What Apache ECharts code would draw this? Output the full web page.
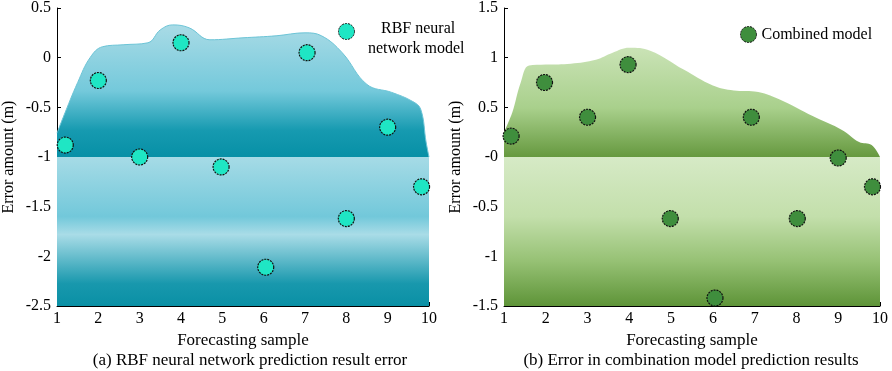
<!DOCTYPE html>
<html>
<head>
<meta charset="utf-8">
<script src="https://cdn.jsdelivr.net/npm/echarts@6/dist/echarts.min.js"></script>
<style>
  html, body { margin: 0; padding: 0; background: #fff; }
  #chart { width: 892px; height: 371px; }
</style>
</head>
<body>
<div id="chart"></div>
<script>
// 预测误差数据 (x = 样本序号, y = 误差)
const rbfX = [1.2, 2, 3, 4, 4.97, 6.05, 7.05, 8, 9, 9.82];
const rbfY = [-0.88, -0.23, -1.0, 0.15, -1.1, -2.11, 0.05, -1.62, -0.7, -1.3];
const combX = [1.17, 1.97, 3, 3.97, 4.98, 6.05, 6.92, 8.02, 9, 9.82];
const combY = [0.21, 0.75, 0.4, 0.93, -0.62, -1.42, 0.4, -0.62, -0.01, -0.3];

// 背景轮廓 (装饰面积)
const rbfEnvX = [1, 1.15, 1.5, 1.8, 2.1, 2.6, 3.2, 3.5, 3.8, 4.2, 4.7, 5.5, 6.3, 7.0, 7.4, 7.9, 8.5, 9.1, 9.6, 9.8, 9.93, 10];
const rbfEnvY = [-0.76, -0.6, -0.25, 0.0, 0.11, 0.13, 0.15, 0.28, 0.33, 0.3, 0.18, 0.2, 0.22, 0.25, 0.22, 0.05, -0.27, -0.35, -0.44, -0.52, -0.85, -1.0];
const combEnvX = [1, 1.2, 1.4, 1.6, 2.0, 2.6, 3.2, 3.6, 4.0, 4.5, 5.3, 6.0, 6.5, 7.0, 7.6, 8.4, 9.1, 9.5, 9.8, 10];
const combEnvY = [0.25, 0.45, 0.75, 0.92, 0.93, 0.94, 0.98, 1.05, 1.1, 1.07, 0.88, 0.72, 0.67, 0.66, 0.58, 0.41, 0.27, 0.15, 0.12, 0.0];

// 刻度标签
const xTicks = ['1', '2', '3', '4', '5', '6', '7', '8', '9', '10'];
const rbfYTicks = { '0.5': '0.5', '0': '0', '-0.5': '-0.5', '-1': '-1', '-1.5': '-1.5', '-2': '-2', '-2.5': '-2.5' };
const combYTicks = { '1.5': '1.5', '1': '1', '0.5': '0.5', '0': '-0', '-0.5': '-0.5', '-1': '-1', '-1.5': '-1.5' };

const font = 'Liberation Serif';
const G = echarts.graphic.LinearGradient;

function pairs(xs, ys) {
    return xs.map((x, i) => [x, ys[i]]);
}

function xAxis(idx) {
    return {
        gridIndex: idx, type: 'value', min: 1, max: 10, interval: 1,
        name: 'Forecasting sample', nameLocation: 'middle', nameGap: 24,
        nameTextStyle: { fontFamily: font, fontSize: 17, color: '#000' },
        axisLine: { onZero: false, lineStyle: { color: '#000', width: 1 } },
        axisTick: { inside: true, length: 4, lineStyle: { color: '#000' } },
        axisLabel: { fontFamily: font, fontSize: 16, color: '#000', margin: 5,
            formatter: v => xTicks[v - 1] },
        splitLine: { show: false }
    };
}

function yAxis(idx, min, max, labels) {
    return {
        gridIndex: idx, type: 'value', min: min, max: max, interval: 0.5,
        name: 'Error amount (m)', nameLocation: 'middle', nameGap: 40, nameRotate: 90,
        nameTextStyle: { fontFamily: font, fontSize: 16, color: '#000' },
        axisLine: { show: true, onZero: false, lineStyle: { color: '#000', width: 1 } },
        axisTick: { show: true, inside: true, length: 4, lineStyle: { color: '#000' } },
        axisLabel: { fontFamily: font, fontSize: 16, color: '#000', margin: 6,
            formatter: v => labels[String(v)] },
        splitLine: { show: false }
    };
}

const chart = echarts.init(document.getElementById('chart'));

const option = {
    animation: false,
    grid: [
        { left: 52, top: 7, width: 377, bottom: 65 },
        { left: 504, top: 7, width: 376, bottom: 65 }
    ],
    xAxis: [xAxis(0), xAxis(1)],
    yAxis: [yAxis(0, -2.5, 0.5, rbfYTicks), yAxis(1, -1.5, 1.5, combYTicks)],
    legend: [
        {
            data: ['RBF neural network model'], left: 333, top: 18,
            icon: 'circle', itemWidth: 16, itemHeight: 16, itemGap: 6,
            itemStyle: { borderColor: '#111', borderWidth: 1, borderType: [2, 1] },
            formatter: () => '',
            textStyle: { fontFamily: font, fontSize: 16 }
        },
        {
            data: ['Combined model'], left: 735, top: 21,
            icon: 'circle', itemWidth: 16, itemHeight: 16, itemGap: 6,
            itemStyle: { borderColor: '#111', borderWidth: 1, borderType: [2, 1] },
            textStyle: { fontFamily: font, fontSize: 16, color: '#000' }
        }
    ],
    series: [
        {
            // 左图上部轮廓
            type: 'line', xAxisIndex: 0, yAxisIndex: 0, silent: true,
            data: pairs(rbfEnvX, rbfEnvY), smooth: 0.4, symbol: 'none',
            lineStyle: { color: '#6cc4d6', width: 1 },
            areaStyle: {
                origin: -1, opacity: 1,
                color: new G(0, 0, 0, 1, [
                    { offset: 0, color: '#a9dbe6' },
                    { offset: 0.5, color: '#74c9db' },
                    { offset: 0.8, color: '#169ab0' },
                    { offset: 1, color: '#0790a6' }
                ])
            },
            // 左图下部矩形
            markArea: {
                silent: true,
                itemStyle: {
                    color: new G(0, 0, 0, 1, [
                        { offset: 0, color: '#a6dbe6' },
                        { offset: 0.4, color: '#72c8da' },
                        { offset: 0.52, color: '#a9dce7' },
                        { offset: 0.85, color: '#1898ad' },
                        { offset: 1, color: '#0a90a5' }
                    ])
                },
                data: [[{ coord: [1, -1] }, { coord: [10, -2.5] }]]
            },
            z: 1
        },
        {
            // 右图上部轮廓
            type: 'line', xAxisIndex: 1, yAxisIndex: 1, silent: true,
            data: pairs(combEnvX, combEnvY), smooth: 0.4, symbol: 'none',
            lineStyle: { width: 0 },
            areaStyle: {
                origin: 0, opacity: 1,
                color: new G(0, 0, 0, 1, [
                    { offset: 0, color: '#cae3b6' },
                    { offset: 0.55, color: '#a9d08c' },
                    { offset: 1, color: '#66993f' }
                ])
            },
            markArea: {
                silent: true,
                itemStyle: {
                    color: new G(0, 0, 0, 1, [
                        { offset: 0, color: '#d6eac6' },
                        { offset: 0.4, color: '#c3dfab' },
                        { offset: 0.7, color: '#96c174' },
                        { offset: 1, color: '#5e9438' }
                    ])
                },
                data: [[{ coord: [1, 0] }, { coord: [10, -1.5] }]]
            },
            z: 1
        },
        {
            name: 'RBF neural network model', type: 'scatter', xAxisIndex: 0, yAxisIndex: 0,
            data: pairs(rbfX, rbfY), symbolSize: 16,
            itemStyle: { color: '#1fe6c4', borderColor: '#111', borderWidth: 1.2, borderType: [2, 1], opacity: 1 },
            z: 5
        },
        {
            name: 'Combined model', type: 'scatter', xAxisIndex: 1, yAxisIndex: 1,
            data: pairs(combX, combY), symbolSize: 16,
            itemStyle: { color: '#3f8e3d', borderColor: '#111', borderWidth: 1.2, borderType: [2, 1], opacity: 1 },
            z: 5
        }
    ],
    graphic: [
        { type: 'text', left: 381, top: 21, style: { text: 'RBF neural', font: '16px "Liberation Serif"', fill: '#000' } },
        { type: 'text', left: 368, top: 41, style: { text: 'network model', font: '16px "Liberation Serif"', fill: '#000' } },
        { type: 'text', x: 250, y: 352, style: { text: '(a) RBF neural network prediction result error', font: '17px "Liberation Serif"', fill: '#000', textAlign: 'center' } },
        { type: 'text', x: 691, y: 352, style: { text: '(b) Error in combination model prediction results', font: '17px "Liberation Serif"', fill: '#000', textAlign: 'center' } }
    ]
};

option && chart.setOption(option);
</script>
</body>
</html>
